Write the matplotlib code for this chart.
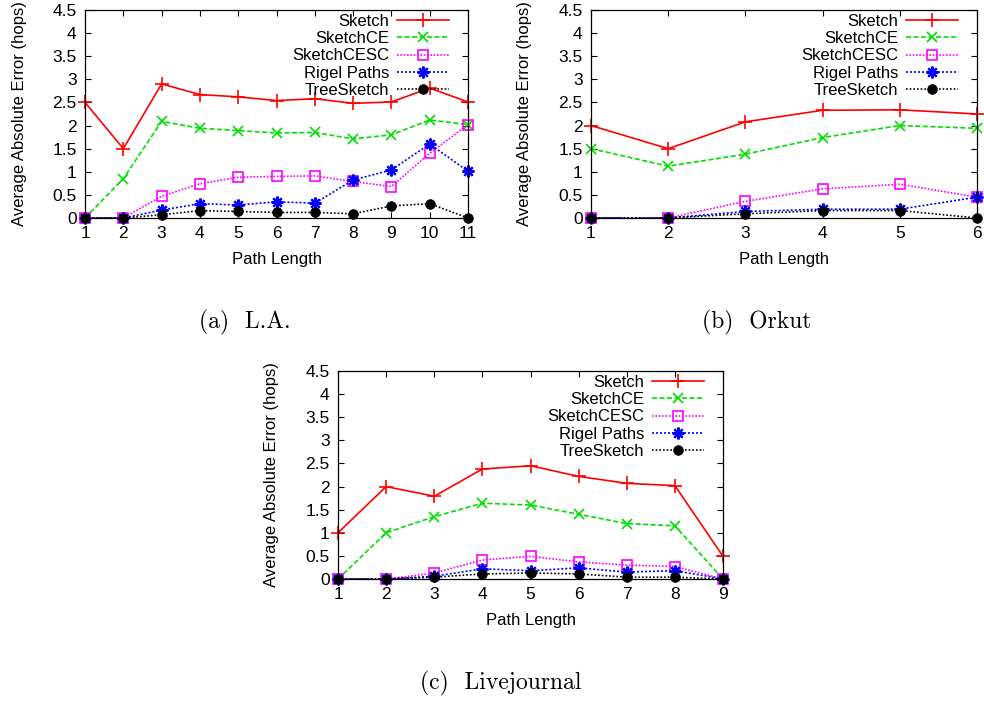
import matplotlib
matplotlib.use('Agg')
import matplotlib.pyplot as plt
from matplotlib.ticker import FuncFormatter

plt.rcParams['font.family'] = ['Liberation Sans', 'DejaVu Sans']

series_names = ['Sketch', 'SketchCE', 'SketchCESC', 'Rigel Paths', 'TreeSketch']

# L.A.
la_x = [1, 2, 3, 4, 5, 6, 7, 8, 9, 10, 11]
la_sketch = [2.5, 1.5, 2.9, 2.67, 2.62, 2.54, 2.58, 2.48, 2.51, 2.81, 2.51]
la_sketchce = [0, 0.85, 2.09, 1.94, 1.89, 1.84, 1.85, 1.71, 1.8, 2.12, 2.02]
la_sketchcesc = [0, 0, 0.47, 0.74, 0.88, 0.9, 0.91, 0.79, 0.68, 1.4, 2.02]
la_rigel = [0, 0, 0.17, 0.31, 0.28, 0.35, 0.32, 0.82, 1.04, 1.6, 1.01]
la_tree = [0, 0, 0.07, 0.16, 0.14, 0.12, 0.12, 0.09, 0.26, 0.31, 0]

# Orkut
ork_x = [1, 2, 3, 4, 5, 6]
ork_sketch = [2.0, 1.5, 2.08, 2.33, 2.34, 2.25]
ork_sketchce = [1.5, 1.12, 1.38, 1.74, 2.0, 1.94]
ork_sketchcesc = [0, 0, 0.36, 0.63, 0.73, 0.45]
ork_rigel = [0, 0, 0.14, 0.19, 0.19, 0.45]
ork_tree = [0, 0, 0.09, 0.16, 0.16, 0]

# Livejournal
lj_x = [1, 2, 3, 4, 5, 6, 7, 8, 9]
lj_sketch = [1.0, 2.0, 1.79, 2.38, 2.45, 2.22, 2.07, 2.02, 0.49]
lj_sketchce = [0, 1.0, 1.35, 1.64, 1.6, 1.4, 1.2, 1.15, 0]
lj_sketchcesc = [0, 0, 0.13, 0.41, 0.49, 0.37, 0.3, 0.27, 0]
lj_rigel = [0, 0, 0.06, 0.22, 0.18, 0.24, 0.15, 0.18, 0]
lj_tree = [0, 0, 0.04, 0.11, 0.13, 0.11, 0.04, 0.04, 0]

styles = [
    dict(color='#ff0000', linestyle='-', marker='+', markersize=10, mew=1.2),
    dict(color='#00e000', linestyle=(0, (3, 1.5)), marker='x', markersize=7.5, mew=1.2),
    dict(color='#ff00ff', linestyle=(0, (1, 1)), marker='s', markersize=7.5, mew=1.2, mfc='none'),
    dict(color='#0000ff', linestyle=(0, (1.2, 1.2)), marker=(8, 2, 0), markersize=8.5, mew=1.6),
    dict(color='black', linestyle=(0, (1, 1.2)), marker='o', markersize=7, mew=0.5),
]


def panel(ax, xs, ys_list, xmax):
    for ys, name, st in zip(ys_list, series_names, styles):
        ax.plot(xs, ys, label=name, linewidth=1.2, clip_on=False, **st)
    ax.set_xlim(1, xmax)
    ax.set_ylim(0, 4.5)
    ax.set_xticks(xs)
    ax.set_yticks([i * 0.5 for i in range(10)])
    ax.yaxis.set_major_formatter(FuncFormatter(lambda v, p: '%g' % v))
    ax.tick_params(direction='in', top=True, right=True, length=4, width=0.8,
                   labelsize=12.5, pad=6)
    for sp in ax.spines.values():
        sp.set_linewidth(0.9)
    ax.set_xlabel('Path Length', fontsize=12)
    ax.set_ylabel('Average Absolute Error (hops)', fontsize=12)
    ax.xaxis.set_label_coords(0.5, -0.163)
    ax.yaxis.set_label_coords(-0.152, 0.5)
    ax.legend(loc='upper right', bbox_to_anchor=(0.955, 0.99), frameon=False,
              markerfirst=False, fontsize=12, handlelength=3.1, handletextpad=0.5,
              labelspacing=0.14, borderpad=0.1, borderaxespad=0)


fig = plt.figure(figsize=(9.84, 7.02), dpi=100)
ax_a = fig.add_axes([0.0864, 0.6895, 0.3892, 0.2963])
ax_b = fig.add_axes([0.6006, 0.6895, 0.3923, 0.2963])
ax_c = fig.add_axes([0.3435, 0.1752, 0.3913, 0.2963])

panel(ax_a, la_x, [la_sketch, la_sketchce, la_sketchcesc, la_rigel, la_tree], 11)
panel(ax_b, ork_x, [ork_sketch, ork_sketchce, ork_sketchcesc, ork_rigel, ork_tree], 6)
panel(ax_c, lj_x, [lj_sketch, lj_sketchce, lj_sketchcesc, lj_rigel, lj_tree], 9)

cap = dict(ha='center', va='center', fontsize=17, family=['cmr10', 'DejaVu Serif'])
fig.text(0.249, 0.54, '(a)  L.A.', **cap)
fig.text(0.769, 0.54, '(b)  Orkut', **cap)
fig.text(0.509, 0.027, '(c)  Livejournal', **cap)

fig.savefig('out.png', dpi=100)
